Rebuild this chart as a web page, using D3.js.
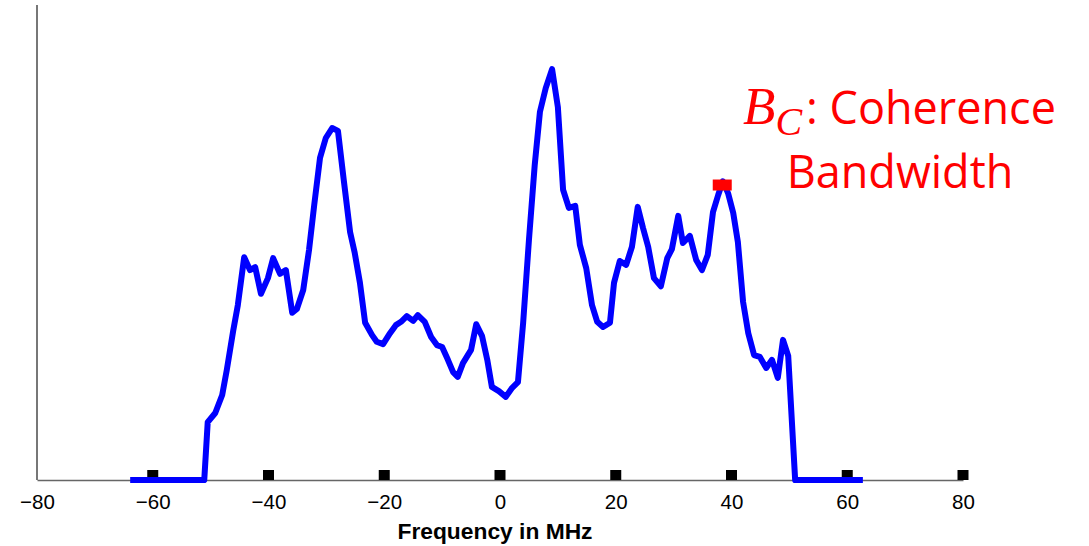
<!DOCTYPE html>
<html>
<head>
<meta charset="utf-8">
<script src="https://cdn.jsdelivr.net/npm/d3@7"></script>
<style>
  html, body { margin: 0; padding: 0; background: #fff; }
  svg { display: block; }
</style>
</head>
<body>
<svg id="chart" width="1089" height="546"></svg>
<script>
// ---- data ----
const freqMHz = [
  -63.9, -51.1, -50.5, -49.2, -48.0, -47.2, -46.1, -45.3, -44.2, -43.2,
  -42.3, -41.3, -40.1, -39.2, -38.0, -37.0, -35.9, -35.1, -34.0, -33.0,
  -32.1, -31.1, -30.1, -29.0, -28.0, -27.0, -25.9, -25.1, -24.2, -23.3,
  -22.1, -21.3, -20.2, -19.0, -18.0, -17.1, -16.1, -15.0, -14.2, -13.0,
  -11.9, -10.9, -10.0, -9.0, -8.1, -7.3, -6.4, -5.0, -4.1, -3.1,
  -2.2, -1.4, -0.2, 1.0, 2.1, 3.1, 4.0, 5.0, 6.0, 6.9,
  7.9, 9.0, 10.0, 10.9, 11.9, 13.0, 13.8, 14.9, 15.9, 16.8,
  17.8, 19.0, 19.7, 20.7, 21.8, 22.8, 23.8, 24.7, 25.6, 26.6,
  27.8, 28.9, 29.7, 30.8, 31.6, 32.8, 33.9, 34.9, 35.9, 36.8,
  37.7, 38.5, 39.4, 40.3, 41.1, 42.0, 42.9, 43.9, 44.9, 46.0,
  47.0, 48.0, 48.9, 49.8, 51.0, 62.7
];
const power = [
  0, 0, 12.2, 14.1, 17.9, 23.2, 31.4, 36.8, 46.9, 44.2,
  44.8, 39.2, 42.5, 46.7, 43.4, 44.2, 35.2, 36.0, 40.0, 48.4,
  57.9, 67.8, 72.0, 74.1, 73.5, 63.2, 52.2, 47.8, 41.5, 33.1,
  30.5, 29.1, 28.6, 30.9, 32.6, 33.3, 34.5, 33.5, 34.7, 33.3,
  30.1, 28.4, 28.0, 25.3, 22.7, 21.7, 24.6, 27.4, 32.8, 30.3,
  25.3, 19.6, 18.7, 17.5, 19.4, 20.6, 33.1, 50.5, 66.3, 77.5,
  82.5, 86.5, 78.5, 61.1, 57.3, 57.7, 49.5, 44.6, 36.8, 33.3,
  32.2, 33.1, 41.5, 46.1, 45.3, 49.1, 57.5, 53.1, 49.1, 42.5,
  40.8, 46.7, 48.6, 55.6, 49.9, 51.4, 46.3, 44.2, 47.4, 56.4,
  60.0, 62.9, 60.4, 56.2, 50.1, 37.5, 30.9, 26.3, 25.9, 23.6,
  25.3, 21.5, 29.5, 26.1, 0, 0
];
const xTicks = [-80, -60, -40, -20, 0, 20, 40, 60, 80];
const xTickMarks = [-60, -40, -20, 0, 20, 40, 60, 80];
const bcMarker = [38.4, 62.1];
const xLabel = "Frequency in MHz";
const noteLine1 = "Coherence";
const noteLine2 = "Bandwidth";

// ---- drawing ----
const svg = d3.select("#chart");
const x = d3.scaleLinear().domain([-80, 80]).range([37, 963]);
const y = d3.scaleLinear().domain([0, 100]).range([480, 5]);

// y axis (no ticks)
svg.append("line")
  .attr("x1", x(-80)).attr("x2", x(-80))
  .attr("y1", y(100)).attr("y2", y(0))
  .attr("stroke", "#777").attr("stroke-width", 2);

// x axis
const xAxis = d3.axisBottom(x)
  .tickValues(xTicks)
  .tickSize(0)
  .tickPadding(14)
  .tickFormat(d => d < 0 ? "\u2212" + Math.abs(d) : String(d));
const gx = svg.append("g").attr("transform", `translate(0,${y(0)})`).call(xAxis);
gx.select(".domain").attr("stroke", "#666").attr("stroke-width", 1.3);
gx.selectAll("text")
  .attr("font-family", "'Liberation Sans', Arial, Helvetica, sans-serif")
  .attr("font-size", 20.5)
  .attr("fill", "#000");

// square tick marks (inside)
svg.append("g").selectAll("rect")
  .data(xTickMarks)
  .join("rect")
  .attr("x", d => x(d) - 5.5)
  .attr("y", y(0) - 10)
  .attr("width", 11)
  .attr("height", 10)
  .attr("fill", "#000");

// x label
svg.append("text")
  .attr("x", 495).attr("y", 539)
  .attr("text-anchor", "middle")
  .attr("font-family", "'Liberation Sans', Arial, Helvetica, sans-serif")
  .attr("font-weight", "bold")
  .attr("font-size", 22.8)
  .attr("fill", "#000")
  .text(xLabel);

// spectrum line
const pts = freqMHz.map((f, i) => [f, power[i]]);
svg.append("path")
  .datum(pts)
  .attr("fill", "none")
  .attr("stroke", "#0000ff")
  .attr("stroke-width", 6)
  .attr("stroke-linejoin", "round")
  .attr("stroke-linecap", "butt")
  .attr("d", d3.line().x(d => x(d[0])).y(d => y(d[1])));

// red marker
svg.append("rect")
  .attr("x", x(bcMarker[0]) - 9.5)
  .attr("y", y(bcMarker[1]) - 5.5)
  .attr("width", 19)
  .attr("height", 11)
  .attr("fill", "#ff0000");

// annotation
const t1 = svg.append("text")
  .attr("x", 743).attr("y", 124)
  .attr("fill", "#ff0000");
t1.append("tspan")
  .attr("font-family", "'Liberation Serif', 'DejaVu Serif', serif")
  .attr("font-style", "italic")
  .attr("font-size", 53)
  .text("B");
t1.append("tspan")
  .attr("font-family", "'Liberation Serif', 'DejaVu Serif', serif")
  .attr("font-style", "italic")
  .attr("font-size", 40)
  .attr("dy", 11)
  .text("C");
t1.append("tspan")
  .attr("font-family", "'Open Sans', sans-serif")
  .attr("font-size", 45)
  .attr("dy", -11)
  .attr("dx", 4)
  .text(": " + noteLine1);

svg.append("text")
  .attr("x", 900).attr("y", 188)
  .attr("text-anchor", "middle")
  .attr("font-family", "'Open Sans', sans-serif")
  .attr("font-size", 45)
  .attr("fill", "#ff0000")
  .text(noteLine2);
</script>
</body>
</html>
